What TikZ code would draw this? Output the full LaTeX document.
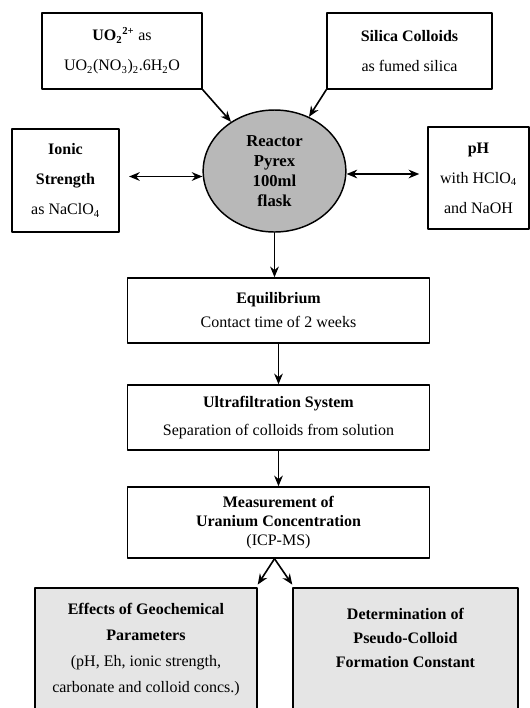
\documentclass[tikz,border=0pt]{standalone}
\usepackage{fontspec}
\setmainfont{Liberation Serif}
\usetikzlibrary{shapes.geometric,arrows.meta}
\begin{document}
\begin{tikzpicture}[x=0.75pt,y=-0.75pt,>={Stealth[length=8pt,width=6.5pt]},line join=round,line cap=round,
	font=\fontsize{12}{14}\selectfont,
	linegap/.style={font=\fontsize{12}{#1}\selectfont},
	box/.style={draw,line width=1.1pt,align=center,inner sep=2pt},
	result/.style={box,fill=black!10},
	flask/.style={ellipse,draw,line width=1.1pt,fill=black!28,align=center,inner sep=0pt,
		font=\fontsize{12.5}{15}\selectfont\bfseries},
	flow/.style={->,line width=1.2pt}]
	\useasboundingbox (0,0) rectangle (530,708);
	% inputs
	\node[box,linegap=22.5,minimum width=120pt,minimum height=57pt] (uranyl) at (122,51)
		{\textbf{UO\textsubscript{2}\textsuperscript{2+}} as\\UO\textsubscript{2}(NO\textsubscript{3})\textsubscript{2}.6H\textsubscript{2}O};
	\node[box,linegap=22.5,minimum width=123.75pt,minimum height=57pt] (silica) at (409.5,51)
		{\textbf{Silica Colloids}\\as fumed silica};
	\node[box,linegap=22.5,minimum width=80.25pt,minimum height=77pt] (ionic) at (65.5,180.5)
		{\textbf{Ionic}\\\textbf{Strength}\\as NaClO\textsubscript{4}};
	\node[box,linegap=22.5,minimum width=75.75pt,minimum height=76.5pt] (ph) at (478.5,178)
		{\textbf{pH}\\with HClO\textsubscript{4}\\and NaOH};
	\node[flask,minimum width=107pt,minimum height=91.5pt] (reactor) at (274.5,171)
		{Reactor\\Pyrex\\100ml\\flask};
	% process steps
	\node[box,linegap=18,minimum width=226.5pt,minimum height=48.75pt] (equil) at (278.5,310.5)
		{\textbf{Equilibrium}\\Contact time of 2 weeks};
	\node[box,linegap=21,minimum width=226.5pt,minimum height=48.75pt] (ultra) at (278.5,417.5)
		{\textbf{Ultrafiltration System}\\Separation of colloids from solution};
	\node[box,linegap=14.25,minimum width=226.5pt,minimum height=53.25pt] (measure) at (278.5,522.5)
		{\textbf{Measurement of}\\\textbf{Uranium Concentration}\\(ICP-MS)};
	% results
	\node[result,linegap=19.5,minimum width=166.5pt,minimum height=93pt] (effects) at (146,650)
		{\textbf{Effects of Geochemical}\\\textbf{Parameters}\\(pH, Eh, ionic strength,\\carbonate and colloid concs.)};
	\node[result,linegap=18,minimum width=168.75pt,minimum height=93pt] (formation) at (405.5,650)
		{\textbf{Determination of}\\\textbf{Pseudo-Colloid}\\\textbf{Formation Constant}\\\mbox{}};
	% connectors
	\draw[flow] (uranyl.south east) -- (reactor);
	\draw[flow] (silica.south west) -- (reactor);
	\draw[flow,<->] ([xshift=7pt,yshift=3pt]ionic.east) -- ([yshift=3pt]ionic.east -| reactor.west);
	\draw[flow,<->] ([yshift=3pt]ph.west -| reactor.east) -- ([xshift=-6pt,yshift=3pt]ph.west);
	\draw[flow] (reactor.south) -- (reactor.south |- equil.north);
	\draw[flow] (equil) -- (ultra);
	\draw[flow] (ultra) -- (measure);
	\draw[flow] ([xshift=-3pt]measure.south) -- ([yshift=2pt]effects.north east);
	\draw[flow] ([xshift=-3pt]measure.south) -- ([yshift=2pt]formation.north west);
\end{tikzpicture}
\end{document}
